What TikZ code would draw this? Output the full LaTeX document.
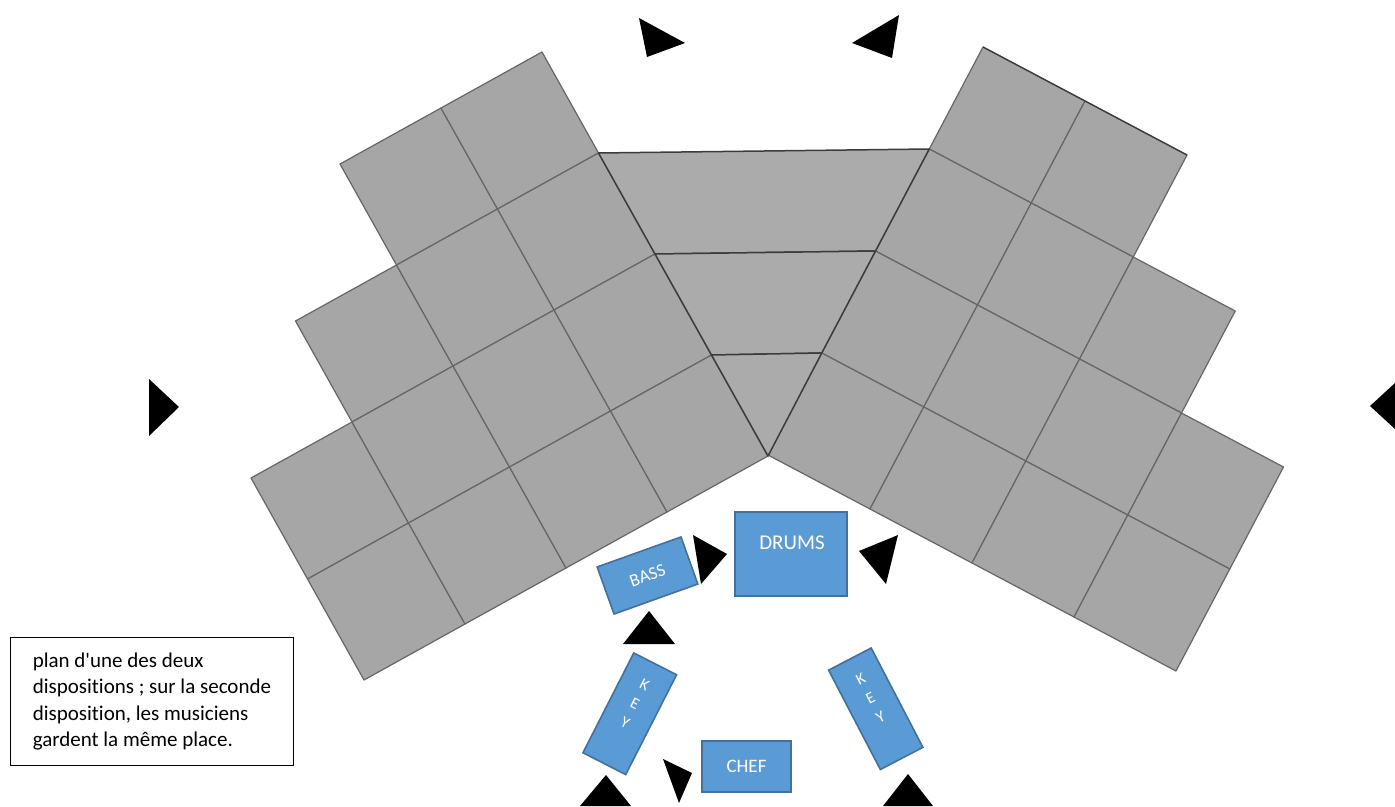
\documentclass[tikz,border=0pt]{standalone}
\usepackage{fontspec}
\setmainfont{Carlito}[Ligatures=CommonOff]
\newfontfamily\calfont{Carlito}[Ligatures=CommonOff]
\usetikzlibrary{calc}
\definecolor{tilefill}{HTML}{A6A6A6}
\definecolor{tileline}{HTML}{666666}
\definecolor{bandfill}{HTML}{ABABAB}
\definecolor{bandline}{HTML}{3C3C3C}
\definecolor{boxfill}{HTML}{5B9BD5}
\definecolor{boxline}{HTML}{41719C}
\begin{document}
\begin{tikzpicture}[x=1pt,y=-1pt,
  tile/.style={fill=tilefill, draw=tileline, line width=1.2pt, line join=round},
  band/.style={fill=bandfill, draw=bandline, line width=1.5pt, line join=round},
  bluebox/.style={rectangle, fill=boxfill, draw=boxline, line width=1.6pt, inner sep=0pt, text=white},
  boxtext/.style={inner sep=0pt, text=white},
  marker/.style={fill=black},
  note/.style={rectangle, draw=black, line width=0.9pt, align=left, inner sep=0pt, font=\calfont\fontsize{21}{26.5}\selectfont}]
\useasboundingbox (0,0) rectangle (1395,806);

% left block of tiles
\begin{scope}[shift={(542,52)}, x={(101pt,56pt)}, y={(56.5pt,-101pt)}]
  \foreach \a/\b in {-2/0,-1/0,-3/1,-2/1,-1/1,-4/2,-3/2,-2/2,-1/2,-4/3,-3/3,-2/3,-1/3}
    \draw[tile] (\a,\b) -- ++(1,0) -- ++(0,1) -- ++(-1,0) -- cycle;
  \foreach \k in {1,2,3,4} \coordinate (L\k) at (0,\k);
\end{scope}

% right block of tiles
\begin{scope}[shift={(983,47)}, x={(102pt,-54pt)}, y={(-53.75pt,-102pt)}]
  \foreach \a/\b in {0/0,1/0,0/1,1/1,2/1,0/2,1/2,2/2,3/2,0/3,1/3,2/3,3/3}
    \draw[tile] (\a,\b) -- ++(1,0) -- ++(0,1) -- ++(-1,0) -- cycle;
  \foreach \k in {1,2,3,4} \coordinate (R\k) at (0,\k);
  \coordinate (Rtop) at (0,0);
  \coordinate (Rtopr) at (2,0);
\end{scope}
\draw[bandline, line width=1.3pt] (Rtop) -- (Rtopr);

% central band
\draw[band] (L1) -- (R1) -- (R2) -- (L2) -- cycle;
\draw[band] (L2) -- (R2) -- (R3) -- (L3) -- cycle;
\draw[band] (L3) -- (R3) -- (L4) -- cycle;

% musicians
\node[bluebox, minimum width=112pt, minimum height=84pt] (drums) at (791,554) {};
\node[boxtext, font=\fontsize{21}{25}\selectfont] (drumstext) at (792,543) {DRUMS};
\node[bluebox, rotate=19.7, minimum width=89pt, minimum height=50pt, font=\fontsize{18}{21}\selectfont] (bass) at (647.5,575.5) {BASS};
\node[bluebox, rotate=-27, minimum width=48pt, minimum height=112pt] (keyl) at (629.75,713.75) {};
\node[boxtext, rotate=-27, align=center, font=\fontsize{16}{21.5}\selectfont] (keyltext) at (635,703.5) {K\\E\\Y};
\node[bluebox, rotate=27.5, minimum width=48pt, minimum height=112pt] (keyr) at (875.75,708.75) {};
\node[boxtext, rotate=27.5, align=center, font=\fontsize{16}{21.5}\selectfont] (keyrtext) at (870.5,698.5) {K\\E\\Y};
\node[bluebox, minimum width=89pt, minimum height=51pt, font=\fontsize{19}{22}\selectfont] (chef) at (746.5,766.5) {CHEF};

% markers
\fill[marker] (639,18) -- (647,57) -- (685,43) -- cycle;
\fill[marker] (899,15) -- (892,58) -- (852,43) -- cycle;
\fill[marker] (149,379) -- (149,436) -- (179,407) -- cycle;
\fill[marker] (1370,406) -- (1395,383) -- (1395,429) -- cycle;
\fill[marker] (693,535) -- (727,554) -- (701,584) -- cycle;
\fill[marker] (898,535) -- (859,551) -- (886,584) -- cycle;
\fill[marker] (649,611) -- (623,644) -- (675,644) -- cycle;
\fill[marker] (663,759) -- (692,773) -- (679,803) -- cycle;
\fill[marker] (606,775) -- (580,806) -- (631,806) -- cycle;
\fill[marker] (908,774) -- (883,806) -- (933,806) -- cycle;

% note
\node[note, minimum width=283pt, minimum height=128pt, anchor=north west] (notebox) at (10,637)
  {plan d'une des deux\\dispositions ; sur la seconde\\disposition, les musiciens\\gardent la même place.};
\end{tikzpicture}
\end{document}
